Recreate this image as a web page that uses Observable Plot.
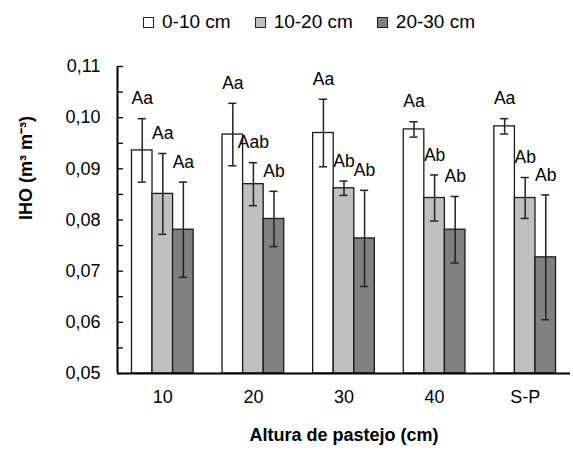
<!DOCTYPE html>
<html><head><meta charset="utf-8">
<script src="https://cdn.jsdelivr.net/npm/d3@7"></script>
<script src="https://cdn.jsdelivr.net/npm/@observablehq/plot@0.6"></script>
<style>
body{margin:0;background:#fff;font-family:"Liberation Sans",Arial,sans-serif;}
#legend{height:44px;display:flex;align-items:center;padding-left:143px;gap:24px;font-size:19px;color:#000;box-sizing:border-box;}
.item{display:flex;align-items:center;}
.sw{width:9px;height:9px;border:1px solid #222;margin-right:8px;}
</style></head><body>
<div id="legend"></div>
<div id="chart"></div>
<script>
const categories = ["10", "20", "30", "40", "S-P"];
const series = ["0-10 cm", "10-20 cm", "20-30 cm"];
const fills = ["#ffffff", "#c0c0c0", "#808080"];
const mean0 = [0.0936, 0.0967, 0.0970, 0.0977, 0.0983];
const err0  = [0.0062, 0.0061, 0.0066, 0.0015, 0.0015];
const mean1 = [0.0851, 0.0870, 0.0862, 0.0843, 0.0843];
const err1  = [0.0079, 0.0042, 0.0014, 0.0045, 0.0040];
const mean2 = [0.0781, 0.0802, 0.0764, 0.0781, 0.0727];
const err2  = [0.0093, 0.0054, 0.0094, 0.0065, 0.0122];
const letters0 = ["Aa", "Aa", "Aa", "Aa", "Aa"];
const letters1 = ["Aa", "Aab", "Ab", "Ab", "Ab"];
const letters2 = ["Aa", "Ab", "Ab", "Ab", "Ab"];
const yTicks = [0.05, 0.06, 0.07, 0.08, 0.09, 0.10, 0.11];
const yTitle = "IHO (m³ m⁻³)";
const xTitle = "Altura de pastejo (cm)";

const means = [mean0, mean1, mean2], errs = [err0, err1, err2], letters = [letters0, letters1, letters2];
const rows = [];
categories.forEach((c, i) => series.forEach((s, j) => rows.push({cat: c, i, j, series: s, mean: means[j][i], err: errs[j][i], letter: letters[j][i]})));

// legend
const leg = document.getElementById("legend");
series.forEach((s, j) => {
  const it = document.createElement("div"); it.className = "item";
  const sw = document.createElement("span"); sw.className = "sw"; sw.style.background = fills[j];
  it.appendChild(sw); it.appendChild(document.createTextNode(s));
  leg.appendChild(it);
});

const bw = 0.227, cap = 0.045;
const cx = d => d.i + (d.j - 1) * bw;
const minorTicks = d3.range(0, 13).map(k => 0.05 + k * 0.005);

const plot = Plot.plot({
  width: 573, height: 411,
  marginTop: 22, marginBottom: 82, marginLeft: 117, marginRight: 3,
  style: {fontFamily: "Liberation Sans, Arial, sans-serif", fontSize: "18px", color: "#000", background: "#fff"},
  x: {type: "linear", domain: [-0.5, 4.5]},
  y: {domain: [0.05, 0.11]},
  color: {domain: series, range: fills},
  marks: [
    Plot.rectY(rows, {x1: d => cx(d) - bw / 2, x2: d => cx(d) + bw / 2, y1: d => 0.05, y2: "mean", fill: "series", stroke: "#1a1a1a", strokeWidth: 1.3}),
    Plot.ruleX(rows, {x: cx, y1: d => d.mean - d.err, y2: d => d.mean + d.err, stroke: "#222", strokeWidth: 1.5}),
    Plot.ruleY(rows, {y: d => d.mean + d.err, x1: d => cx(d) - cap, x2: d => cx(d) + cap, stroke: "#222", strokeWidth: 1.5}),
    Plot.ruleY(rows, {y: d => d.mean - d.err, x1: d => cx(d) - cap, x2: d => cx(d) + cap, stroke: "#222", strokeWidth: 1.5}),
    Plot.text(rows, {x: cx, y: d => d.mean + d.err, text: "letter", dy: -20, lineAnchor: "middle", fontSize: 17.5, fill: "#000"}),
    Plot.ruleY(minorTicks, {y: d => d, insetRight: 447, stroke: "#000", strokeWidth: 1.3}),
    Plot.ruleX([-0.5], {stroke: "#000", strokeWidth: 2}),
    Plot.ruleY([0.05], {stroke: "#000", strokeWidth: 2}),
    Plot.axisY(yTicks, {tickSize: 0, tickPadding: 17, tickFormat: d => d.toFixed(2).replace(".", ","), label: null, fontSize: 18}),
    Plot.axisX(categories.map((c, i) => i), {tickSize: 0, tickPadding: 17, tickFormat: i => categories[i], label: null, fontSize: 18}),
    Plot.text([yTitle], {text: d => d, frameAnchor: "left", dx: -91, rotate: -90, fontWeight: "bold", fontSize: 18, fill: "#000"}),
    Plot.text([xTitle], {text: d => d, frameAnchor: "bottom", dy: 67, fontWeight: "bold", fontSize: 18, fill: "#000"})
  ]
});
document.getElementById("chart").appendChild(plot);
</script>
</body></html>
